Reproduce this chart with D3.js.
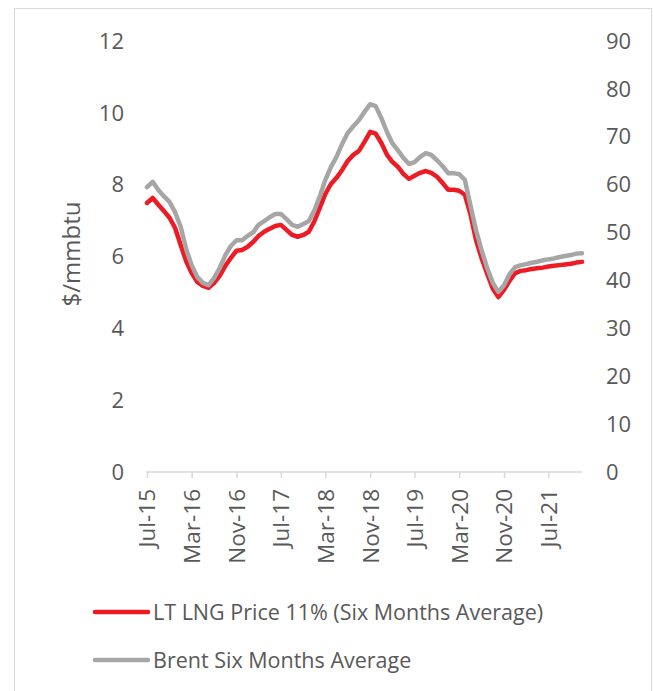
<!DOCTYPE html>
<meta charset="utf-8">
<style>
  body { margin: 0; background: #fff; }
  text { font-family: "Open Sans", sans-serif; fill: #595959; }
</style>
<body>
<script src="https://d3js.org/d3.v7.min.js"></script>
<script>

// months Jul-15 .. Jan-22
var startMonth = "Jul-15", endMonth = "Jan-22";

var tickLabels = ["Jul-15", "Mar-16", "Nov-16", "Jul-17", "Mar-18",
                  "Nov-18", "Jul-19", "Mar-20", "Nov-20", "Jul-21"];

var leftTicks = [0, 2, 4, 6, 8, 10, 12];
var rightTicks = [0, 10, 20, 30, 40, 50, 60, 70, 80, 90];

// LT LNG price 11% ($/mmbtu, left axis)
var lngValues = [
  7.49, 7.63, 7.44, 7.27, 7.08, 6.80, 6.32, 5.85, 5.54, 5.29,
  5.18, 5.13, 5.26, 5.46, 5.74, 5.96, 6.16, 6.18, 6.27, 6.41,
  6.57, 6.69, 6.77, 6.85, 6.88, 6.74, 6.60, 6.55, 6.60, 6.69,
  6.99, 7.38, 7.74, 8.02, 8.19, 8.41, 8.66, 8.83, 8.94, 9.19,
  9.47, 9.42, 9.16, 8.83, 8.64, 8.50, 8.30, 8.16, 8.25, 8.33,
  8.38, 8.33, 8.22, 8.05, 7.86, 7.86, 7.83, 7.72, 7.19, 6.46,
  5.96, 5.52, 5.10, 4.87, 5.07, 5.32, 5.54, 5.60, 5.62, 5.65,
  5.67, 5.69, 5.72, 5.74, 5.76, 5.78, 5.80, 5.83, 5.85
];

// Brent six months average ($/bbl, right axis)
var brentValues = [
  59.5, 60.6, 58.9, 57.6, 56.4, 54.3, 51.2, 46.4, 43.2, 40.7,
  39.5, 39.0, 40.5, 42.6, 45.3, 47.2, 48.4, 48.4, 49.3, 50.1,
  51.6, 52.4, 53.2, 53.9, 53.9, 52.8, 51.6, 51.2, 51.8, 52.4,
  54.7, 57.8, 61.0, 63.7, 65.8, 68.5, 70.8, 72.2, 73.5, 75.2,
  76.8, 76.4, 73.9, 71.0, 68.7, 67.2, 65.6, 64.3, 64.7, 65.8,
  66.6, 66.2, 65.1, 63.9, 62.4, 62.4, 62.2, 61.0, 55.8, 50.5,
  46.4, 42.6, 39.5, 37.6, 39.0, 41.3, 42.8, 43.2, 43.4, 43.7,
  43.9, 44.2, 44.4, 44.6, 44.9, 45.1, 45.3, 45.6, 45.7
];

var parseMonth = d3.timeParse("%b-%y");
var months = d3.timeMonth.range(parseMonth(startMonth), d3.timeMonth.offset(parseMonth(endMonth), 1));

var width = 653, height = 691;
var plot = {left: 147, right: 582, top: 41, bottom: 472};

var svg = d3.select("body").append("svg")
    .attr("width", width)
    .attr("height", height);

// outer border
svg.append("rect")
    .attr("x", 14.5).attr("y", 8.5)
    .attr("width", 637).attr("height", 700)
    .attr("fill", "none")
    .attr("stroke", "#d9d9d9")
    .attr("stroke-width", 1);

var x = d3.scaleTime()
    .domain([months[0], months[months.length - 1]])
    .range([plot.left, plot.right]);

var yLeft = d3.scaleLinear().domain([0, 12]).range([plot.bottom, plot.top]);
var yRight = d3.scaleLinear().domain([0, 90]).range([plot.bottom, plot.top]);

// x axis
var xAxis = svg.append("g")
    .attr("transform", "translate(0," + plot.bottom + ")")
    .call(d3.axisBottom(x)
      .tickValues(tickLabels.map(parseMonth))
      .tickFormat(d3.timeFormat("%b-%y"))
      .tickSizeOuter(0)
      .tickSize(6));
xAxis.select(".domain").attr("stroke", "#d9d9d9").attr("stroke-width", 1.5)
    .attr("d", "M" + (plot.left - 1) + ",0H" + plot.right);
xAxis.selectAll(".tick line").attr("stroke", "#d9d9d9").attr("stroke-width", 1.5);
xAxis.selectAll(".tick text")
    .attr("transform", "rotate(-90)")
    .attr("text-anchor", "end")
    .attr("x", -17)
    .attr("y", 0)
    .attr("dy", "0.35em")
    .attr("dx", 0)
    .style("font-size", "22.5px")
    .style("fill", "#595959");

// left axis labels
svg.append("g").selectAll("text")
    .data(leftTicks)
  .enter().append("text")
    .attr("x", 124)
    .attr("y", function(d) { return yLeft(d); })
    .attr("dy", "0.35em")
    .attr("text-anchor", "end")
    .style("font-size", "22px")
    .text(function(d) { return d; });

// right axis labels
svg.append("g").selectAll("text")
    .data(rightTicks)
  .enter().append("text")
    .attr("x", 606)
    .attr("y", function(d) { return yRight(d); })
    .attr("dy", "0.35em")
    .attr("text-anchor", "start")
    .style("font-size", "22px")
    .text(function(d) { return d; });

// y axis title
svg.append("text")
    .attr("transform", "translate(72,254) rotate(-90)")
    .attr("text-anchor", "middle")
    .attr("dy", "0.35em")
    .style("font-size", "24px")
    .text("$/mmbtu");

var lngLine = d3.line()
    .x(function(d, i) { return x(months[i]); })
    .y(function(d) { return yLeft(d); });

var brentLine = d3.line()
    .x(function(d, i) { return x(months[i]); })
    .y(function(d) { return yRight(d); });

svg.append("path")
    .datum(lngValues)
    .attr("d", lngLine)
    .attr("fill", "none")
    .attr("stroke", "#ed1c24")
    .attr("stroke-width", 4.5)
    .attr("stroke-linejoin", "round")
    .attr("stroke-linecap", "round");

svg.append("path")
    .datum(brentValues)
    .attr("d", brentLine)
    .attr("fill", "none")
    .attr("stroke", "#a6a6a6")
    .attr("stroke-width", 4.5)
    .attr("stroke-linejoin", "round")
    .attr("stroke-linecap", "round");

// legend
var legend = [
  {name: "LT LNG Price 11% (Six Months Average)", color: "#ed1c24", y: 612},
  {name: "Brent Six Months Average", color: "#a6a6a6", y: 660}
];
var lg = svg.append("g").selectAll("g")
    .data(legend)
  .enter().append("g");
lg.append("line")
    .attr("x1", 95).attr("x2", 148)
    .attr("y1", function(d) { return d.y; })
    .attr("y2", function(d) { return d.y; })
    .attr("stroke", function(d) { return d.color; })
    .attr("stroke-width", 4.5)
    .attr("stroke-linecap", "round");
lg.append("text")
    .attr("x", 153)
    .attr("y", function(d) { return d.y; })
    .attr("dy", "0.35em")
    .style("font-size", "21.5px")
    .text(function(d) { return d.name; });

</script>
</body>
